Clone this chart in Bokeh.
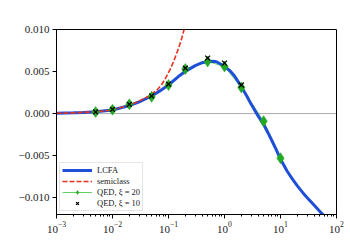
import math
from bokeh.plotting import figure
from bokeh.models import (FixedTicker, LogTickFormatter, CustomJSTickFormatter, Span,
                          Label, Legend, LegendItem, Range1d)
from bokeh.embed import file_html
from bokeh.resources import INLINE

# ---- data ----
lcfa_chi = [0.001, 0.002, 0.003, 0.005, 0.01, 0.02, 0.03, 0.05, 0.07, 0.1, 0.15, 0.2, 0.3,
            0.4, 0.5, 0.6, 0.7, 0.85, 1.0, 1.25, 1.5, 2.0, 2.5, 3.0, 4.0, 5.0, 6.0, 7.0,
            8.0, 10.0, 13.0, 16.0, 20.0, 25.0, 30.0, 40.0, 55.0, 70.0, 100.0]
lcfa_val = [0.00004, 0.00009, 0.00013, 0.00021, 0.00043, 0.00095, 0.0014, 0.0021, 0.0027,
            0.0034, 0.0044, 0.0050, 0.0057, 0.00605, 0.0062, 0.00622, 0.0062, 0.0059,
            0.0056, 0.0051, 0.0045, 0.0032, 0.0021, 0.0011, -0.0003, -0.0013, -0.0023,
            -0.0032, -0.0040, -0.0054, -0.0068, -0.0077, -0.0086, -0.0094, -0.0100,
            -0.0109, -0.0119, -0.0126, -0.0136]

semi_chi = [0.001, 0.002, 0.005, 0.01, 0.02, 0.03, 0.045, 0.06, 0.075, 0.09, 0.11, 0.13,
            0.15, 0.17, 0.19, 0.21, 0.23]
semi_val = [0.00004, 0.00009, 0.00021, 0.00044, 0.0010, 0.0015, 0.0021, 0.0027, 0.0034,
            0.0043, 0.0054, 0.0066, 0.0077, 0.0088, 0.0100, 0.0113, 0.0126]

qed20_chi = [0.005, 0.01, 0.02, 0.05, 0.1, 0.2, 0.5, 1.0, 2.0, 5.0, 10.0]
qed20_val = [0.00019, 0.00047, 0.0011, 0.0020, 0.0034, 0.0053, 0.0062, 0.0056, 0.0031,
             -0.0009, -0.0053]

qed10_chi = [0.005, 0.01, 0.02, 0.05, 0.1, 0.2, 0.5, 1.0, 2.0]
qed10_val = [0.0002, 0.0005, 0.0011, 0.0021, 0.0035, 0.0054, 0.0066, 0.0060, 0.0034]

x_major = [1e-3, 1e-2, 1e-1, 1.0, 10.0, 100.0]
x_minor = [k * 10.0 ** e for e in range(-3, 2) for k in range(2, 10)]
y_major = [-0.010, -0.005, 0.0, 0.005, 0.010]

legend_labels = ["LCFA", "semiclass", "QED, ξ = 20", "QED, ξ = 10"]

SERIF = "Liberation Serif"

p = figure(width=350, height=245, x_axis_type="log",
           x_range=Range1d(1e-3, 1e2), y_range=Range1d(-0.012, 0.010),
           output_backend="svg", toolbar_location=None,
           min_border_left=56, min_border_right=14, min_border_top=29, min_border_bottom=31)

p.background_fill_color = "white"
p.border_fill_color = "white"
p.outline_line_color = "black"
p.outline_line_width = 1
p.xgrid.visible = False
p.ygrid.visible = False

# axes
p.xaxis.ticker = FixedTicker(ticks=x_major, minor_ticks=x_minor)
p.xaxis.formatter = LogTickFormatter()
p.yaxis.ticker = FixedTicker(ticks=y_major, minor_ticks=[])
p.yaxis.formatter = CustomJSTickFormatter(
    code="return (tick < -1e-12 ? '\u2212' : '') + Math.abs(tick).toFixed(3);")
for ax in (p.xaxis[0], p.yaxis[0]):
    ax.axis_line_color = "black"
    ax.axis_line_width = 1
    ax.major_tick_line_color = "black"
    ax.minor_tick_line_color = "black"
    ax.major_tick_out = 4
    ax.major_tick_in = 0
    ax.minor_tick_out = 2
    ax.minor_tick_in = 0
    ax.major_label_text_font = SERIF
    ax.major_label_text_font_size = "11px"
    ax.major_label_text_color = "#222222"
    ax.major_label_standoff = 3
p.yaxis.minor_tick_line_color = None

zero = Span(location=0.0, dimension="width", line_color="#555555", line_dash="1 1",
            line_width=1, level="underlay")
p.add_layout(zero)

g_line = p.line(qed20_chi, qed20_val, line_color="#3cc43c", line_width=1, line_alpha=0.8)
r_lcfa = p.line(lcfa_chi, lcfa_val, line_color="#1f4fd6", line_width=3)
r_semi = p.line(semi_chi, semi_val, line_color="#e8321e", line_width=1.6, line_dash="5 2")
g_pts = p.scatter(qed20_chi, qed20_val, marker="diamond", size=11, fill_color="#22a822",
                  line_color="#22a822", line_width=0.5)
k_pts = p.scatter(qed10_chi, qed10_val, marker="x", size=7, line_color="black", line_width=1.3)

legend = Legend(items=[LegendItem(label=legend_labels[0], renderers=[r_lcfa]),
                       LegendItem(label=legend_labels[1], renderers=[r_semi]),
                       LegendItem(label=legend_labels[2], renderers=[g_line, g_pts]),
                       LegendItem(label=legend_labels[3], renderers=[k_pts])],
                location="bottom_left")
legend.margin = 3
legend.padding = 2
legend.spacing = 1
legend.label_height = 10
legend.glyph_height = 10
legend.glyph_width = 30
legend.label_standoff = 5
legend.label_text_font = SERIF
legend.label_text_font_size = "8.5px"
legend.label_text_color = "#222222"
legend.border_line_color = "#cccccc"
legend.border_line_width = 1
legend.background_fill_alpha = 0.85
p.add_layout(legend, "center")

# axis titles (as labels placed outside the frame)
def xpage_to_chi(px):
    return 10 ** (-3 + (px - 56) / 56.0)

def ypage_to_val(py):
    return (113.3 - py) / 8450.0

p.add_layout(Label(x=xpage_to_chi(196), y=ypage_to_val(237), text="χ", text_align="right",
                   text_baseline="alphabetic", x_offset=1, text_font=SERIF,
                   text_font_style="italic", text_font_size="12px", text_color="#222222"))
p.add_layout(Label(x=xpage_to_chi(196), y=ypage_to_val(237), text="e", text_align="left",
                   text_baseline="alphabetic", x_offset=1, y_offset=-2, text_font=SERIF,
                   text_font_style="italic", text_font_size="8px", text_color="#222222"))
p.add_layout(Label(x=xpage_to_chi(12), y=ypage_to_val(124), text="Ξ", text_align="center",
                   text_baseline="alphabetic", angle=math.pi / 2, text_font=SERIF,
                   text_font_size="12px", text_color="#222222"))
p.add_layout(Label(x=xpage_to_chi(14), y=ypage_to_val(117), text="ζ", text_align="left",
                   text_baseline="alphabetic", angle=math.pi / 2, text_font=SERIF,
                   text_font_style="italic", text_font_size="8px", text_color="#222222"))

open("out.html", "w").write(file_html(p, INLINE))
